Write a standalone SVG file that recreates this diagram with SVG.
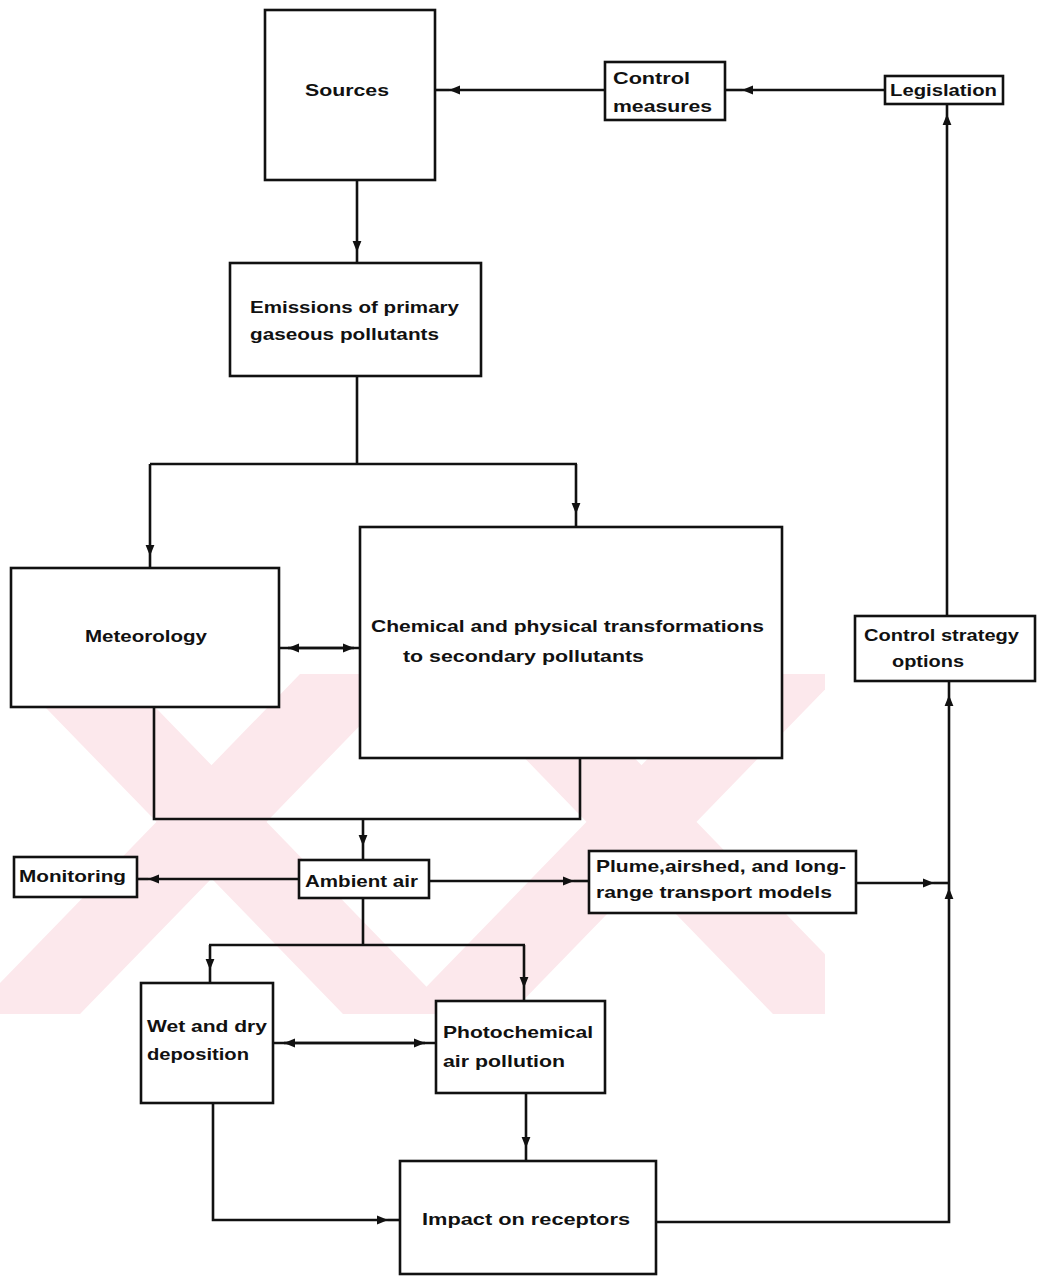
<svg xmlns="http://www.w3.org/2000/svg" width="1041" height="1278" viewBox="0 0 1041 1278">
  <style>
    .box { fill: #ffffff; stroke: #111111; stroke-width: 2.6; }
    .lbl { font-family: "Liberation Sans", Arial, sans-serif; font-weight: bold; font-size: 17px; fill: #111111; }
    .con { fill: none; stroke: #111111; stroke-width: 2.6; }
    .wm { fill: #fce8ec; }
  </style>
  <defs>
    <marker id="arr" viewBox="0 0 10 10" refX="10" refY="5" markerWidth="11" markerHeight="11" markerUnits="userSpaceOnUse" orient="auto-start-reverse">
      <path d="M0,1 L10,5 L0,9 z" fill="#111111"/>
    </marker>
    <clipPath id="wmclip">
      <rect x="0" y="674" width="825" height="340"/>
    </clipPath>
  </defs>
  <rect x="0" y="0" width="1041" height="1278" fill="#ffffff"/>

  <g id="watermark" clip-path="url(#wmclip)">
    <polygon class="wm" points="300,674 410,674 80,1014 -30,1014"/>
    <polygon class="wm" points="13,674 123,674 453,1014 343,1014"/>
    <polygon class="wm" points="443,674 553,674 883,1014 773,1014"/>
    <polygon class="wm" points="730,674 840,674 510,1014 400,1014"/>
  </g>

  <g id="connectors">
    <!-- Legislation -> Control measures -->
    <path class="con" d="M885,90 L742,90" marker-end="url(#arr)"/>
    <path class="con" d="M742,90 L725,90"/>
    <!-- Control measures -> Sources -->
    <path class="con" d="M605,90 L449,90" marker-end="url(#arr)"/>
    <path class="con" d="M449,90 L435,90"/>
    <!-- Sources -> Emissions -->
    <path class="con" d="M357,180 L357,252" marker-end="url(#arr)"/>
    <path class="con" d="M357,252 L357,263"/>
    <!-- Emissions -> Meteorology / Chemical -->
    <path class="con" d="M357,376 L357,464 M150,464 L577,464"/>
    <path class="con" d="M150,464 L150,556" marker-end="url(#arr)"/>
    <path class="con" d="M150,556 L150,568"/>
    <path class="con" d="M576,464 L576,514" marker-end="url(#arr)"/>
    <path class="con" d="M576,514 L576,527"/>
    <!-- Meteorology <-> Chemical -->
    <path class="con" d="M279,648 L360,648"/>
    <path class="con" d="M288,648 L354,648" marker-start="url(#arr)" marker-end="url(#arr)"/>
    <!-- Meteorology / Chemical -> Ambient air -->
    <path class="con" d="M154,707 L154,819 L580,819 L580,758"/>
    <path class="con" d="M363,819 L363,846" marker-end="url(#arr)"/>
    <path class="con" d="M363,846 L363,860"/>
    <!-- Ambient air -> Monitoring -->
    <path class="con" d="M299,879 L148,879" marker-end="url(#arr)"/>
    <path class="con" d="M148,879 L137,879"/>
    <!-- Ambient air -> Plume -->
    <path class="con" d="M429,881 L574,881" marker-end="url(#arr)"/>
    <path class="con" d="M574,881 L589,881"/>
    <!-- Plume -> right trunk -->
    <path class="con" d="M856,883 L934,883" marker-end="url(#arr)"/>
    <path class="con" d="M934,883 L948,883"/>
    <!-- Ambient air -> Wet / Photochemical -->
    <path class="con" d="M363,898 L363,945 M209,945 L525,945"/>
    <path class="con" d="M210,945 L210,970" marker-end="url(#arr)"/>
    <path class="con" d="M210,970 L210,983"/>
    <path class="con" d="M524,945 L524,988" marker-end="url(#arr)"/>
    <path class="con" d="M524,988 L524,1001"/>
    <!-- Wet <-> Photochemical -->
    <path class="con" d="M273,1043 L436,1043"/>
    <path class="con" d="M284,1043 L425,1043" marker-start="url(#arr)" marker-end="url(#arr)"/>
    <!-- Photochemical -> Impact -->
    <path class="con" d="M526,1093 L526,1148" marker-end="url(#arr)"/>
    <path class="con" d="M526,1148 L526,1160"/>
    <!-- Wet -> Impact -->
    <path class="con" d="M213,1103 L213,1220 L388,1220" marker-end="url(#arr)"/>
    <path class="con" d="M388,1220 L400,1220"/>
    <!-- Impact -> Control strategy options -->
    <path class="con" d="M656,1222 L949,1222 L949,888" marker-end="url(#arr)"/>
    <path class="con" d="M949,888 L949,695" marker-end="url(#arr)"/>
    <path class="con" d="M949,695 L949,681"/>
    <!-- Control strategy options -> Legislation -->
    <path class="con" d="M947,616 L947,114" marker-end="url(#arr)"/>
    <path class="con" d="M947,114 L947,104"/>
  </g>

  <g id="sources">
    <rect class="box" x="265" y="10" width="170" height="170"/>
    <text class="lbl" x="305" y="96" textLength="84" lengthAdjust="spacingAndGlyphs">Sources</text>
  </g>
  <g id="control-measures">
    <rect class="box" x="605" y="62" width="120" height="58"/>
    <text class="lbl" x="613" y="84" textLength="77" lengthAdjust="spacingAndGlyphs">Control</text>
    <text class="lbl" x="613" y="112" textLength="99" lengthAdjust="spacingAndGlyphs">measures</text>
  </g>
  <g id="legislation">
    <rect class="box" x="885" y="76" width="118" height="28"/>
    <text class="lbl" x="890" y="96" textLength="107" lengthAdjust="spacingAndGlyphs">Legislation</text>
  </g>
  <g id="emissions">
    <rect class="box" x="230" y="263" width="251" height="113"/>
    <text class="lbl" x="250" y="313" textLength="209" lengthAdjust="spacingAndGlyphs">Emissions of primary</text>
    <text class="lbl" x="250" y="340" textLength="189" lengthAdjust="spacingAndGlyphs">gaseous pollutants</text>
  </g>
  <g id="meteorology">
    <rect class="box" x="11" y="568" width="268" height="139"/>
    <text class="lbl" x="85" y="642" textLength="122" lengthAdjust="spacingAndGlyphs">Meteorology</text>
  </g>
  <g id="chemical">
    <rect class="box" x="360" y="527" width="422" height="231"/>
    <text class="lbl" x="371" y="632" textLength="393" lengthAdjust="spacingAndGlyphs">Chemical and physical transformations</text>
    <text class="lbl" x="403" y="662" textLength="241" lengthAdjust="spacingAndGlyphs">to secondary pollutants</text>
  </g>
  <g id="monitoring">
    <rect class="box" x="14" y="857" width="123" height="40"/>
    <text class="lbl" x="19" y="882" textLength="107" lengthAdjust="spacingAndGlyphs">Monitoring</text>
  </g>
  <g id="ambient-air">
    <rect class="box" x="299" y="860" width="130" height="38"/>
    <text class="lbl" x="305" y="887" textLength="113" lengthAdjust="spacingAndGlyphs">Ambient air</text>
  </g>
  <g id="plume">
    <rect class="box" x="589" y="851" width="267" height="62"/>
    <text class="lbl" x="596" y="872" textLength="250" lengthAdjust="spacingAndGlyphs">Plume,airshed, and long-</text>
    <text class="lbl" x="596" y="898" textLength="236" lengthAdjust="spacingAndGlyphs">range transport models</text>
  </g>
  <g id="control-strategy">
    <rect class="box" x="855" y="616" width="180" height="65"/>
    <text class="lbl" x="864" y="641" textLength="155" lengthAdjust="spacingAndGlyphs">Control strategy</text>
    <text class="lbl" x="892" y="667" textLength="72" lengthAdjust="spacingAndGlyphs">options</text>
  </g>
  <g id="wet-dry">
    <rect class="box" x="141" y="983" width="132" height="120"/>
    <text class="lbl" x="147" y="1032" textLength="120" lengthAdjust="spacingAndGlyphs">Wet and dry</text>
    <text class="lbl" x="147" y="1060" textLength="102" lengthAdjust="spacingAndGlyphs">deposition</text>
  </g>
  <g id="photochemical">
    <rect class="box" x="436" y="1001" width="169" height="92"/>
    <text class="lbl" x="443" y="1038" textLength="150" lengthAdjust="spacingAndGlyphs">Photochemical</text>
    <text class="lbl" x="443" y="1067" textLength="122" lengthAdjust="spacingAndGlyphs">air pollution</text>
  </g>
  <g id="impact">
    <rect class="box" x="400" y="1161" width="256" height="113"/>
    <text class="lbl" x="422" y="1225" textLength="208" lengthAdjust="spacingAndGlyphs">Impact on receptors</text>
  </g>
</svg>
